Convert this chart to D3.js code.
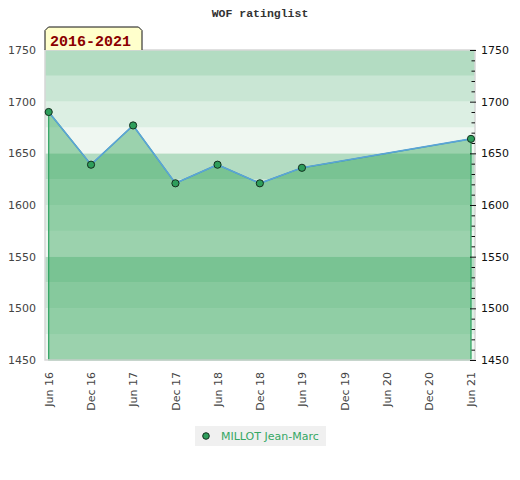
<!DOCTYPE html>
<html>
<head>
<meta charset="utf-8">
<script src="https://cdn.jsdelivr.net/npm/d3@7"></script>
<style>
  body { margin: 0; background: #fff; }
  svg { display: block; }
</style>
</head>
<body>
<script>
/***********************************************************************************/
// Data

var dates   = ['2016-06-01', '2016-12-01', '2017-06-01', '2017-12-01', '2018-06-01', '2018-12-01', '2019-06-01', '2021-06-01'];
var ratings = [1690, 1639, 1677, 1621, 1639, 1621, 1636, 1664];
var xTicks  = ['2016-06-01', '2016-12-01', '2017-06-01', '2017-12-01', '2018-06-01', '2018-12-01',
               '2019-06-01', '2019-12-01', '2020-06-01', '2020-12-01', '2021-06-01'];
var yTicks  = [1450, 1500, 1550, 1600, 1650, 1700, 1750];
var yMinor  = [1460, 1470, 1480, 1490, 1510, 1520, 1530, 1540, 1560, 1570, 1580, 1590,
               1610, 1620, 1630, 1640, 1660, 1670, 1680, 1690, 1710, 1720, 1730, 1740];
var bandEdges = [1450, 1475, 1500, 1525, 1550, 1575, 1600, 1625, 1650, 1675, 1700, 1725];
var playerName = 'MILLOT Jean-Marc';
var chartTitle = 'WOF ratinglist';
var periodLabel = '2016-2021';

/***********************************************************************************/
// Setup

var W = 520, H = 480;
var box = { left: 45, right: 475, top: 50, bottom: 360 };
var parse = d3.timeParse('%Y-%m-%d');
var fmt = d3.timeFormat('%b %y');

// bottom-to-top within each 100 block: lightest ... darkest
var bandColors = ['#eff7f1', '#dcefe3', '#c9e6d4', '#b3dcc2'];

var points = dates.map(function(d, i){ return { date: parse(d), value: ratings[i] }; });

var x = d3.scaleTime()
  .domain([parse(xTicks[0]), parse(xTicks[xTicks.length - 1])])
  .range([48.7, 471]);
var y = d3.scaleLinear().domain([1450, 1750]).range([box.bottom, box.top]);

var svg = d3.select('body').append('svg').attr('width', W).attr('height', H);

/***********************************************************************************/
// Bands

svg.append('g').selectAll('rect').data(bandEdges).enter().append('rect')
  .attr('x', box.left)
  .attr('width', box.right - box.left)
  .attr('y', function(d){ return y(d + 25); })
  .attr('height', function(d){ return y(d) - y(d + 25); })
  .attr('fill', function(d){ return bandColors[((d - 1450) / 25) % 4]; });

/***********************************************************************************/
// Area + line

var area = d3.area()
  .x(function(d){ return x(d.date); })
  .y0(y(1450))
  .y1(function(d){ return y(d.value); });

svg.append('path').datum(points)
  .attr('d', area)
  .attr('fill', 'rgb(47,163,87)')
  .attr('fill-opacity', 0.44)
  .attr('stroke', '#2ca25f')
  .attr('stroke-width', 1.2);

var line = d3.line()
  .x(function(d){ return x(d.date); })
  .y(function(d){ return y(d.value); });

svg.append('path').datum(points)
  .attr('d', line)
  .attr('fill', 'none')
  .attr('stroke', '#5ba3d9')
  .attr('stroke-width', 1.6);

/***********************************************************************************/
// Plot border

svg.append('rect')
  .attr('x', box.left).attr('y', box.top)
  .attr('width', box.right - box.left).attr('height', box.bottom - box.top)
  .attr('fill', 'none').attr('stroke', '#d6d6d6').attr('stroke-width', 1.5);

/***********************************************************************************/
// Axes

var axisFont = function(g){
  g.select('.domain').remove();
  g.selectAll('text').attr('font-family', 'DejaVu Sans').attr('font-size', 11).attr('fill', '#444');
};

svg.append('g')
  .attr('transform', 'translate(' + box.left + ',0)')
  .call(d3.axisLeft(y).tickValues(yTicks).tickSize(0).tickPadding(9).tickFormat(d3.format('d')))
  .call(axisFont);

svg.append('g')
  .attr('transform', 'translate(471.5,0)')
  .call(d3.axisRight(y).tickValues(yMinor).tickSize(3.5).tickFormat(''))
  .call(function(g){ g.select('.domain').remove(); g.selectAll('line').attr('stroke', '#111'); });

svg.append('g')
  .attr('transform', 'translate(470,0)')
  .call(d3.axisRight(y).tickValues(yTicks).tickSize(6).tickPadding(5).tickFormat(d3.format('d')))
  .call(axisFont)
  .call(function(g){ g.selectAll('line').attr('stroke', '#111'); g.selectAll('text').attr('fill', '#111'); });

svg.append('g')
  .attr('transform', 'translate(0,' + box.bottom + ')')
  .call(d3.axisBottom(x).tickValues(xTicks.map(parse)).tickSize(0).tickFormat(fmt))
  .call(axisFont)
  .call(function(g){
    g.selectAll('text')
      .attr('text-anchor', 'end')
      .attr('transform', 'rotate(-90)')
      .attr('x', -12)
      .attr('y', 0)
      .attr('dy', '0.35em');
  });

/***********************************************************************************/
// Points

svg.append('g').selectAll('circle').data(points).enter().append('circle')
  .attr('cx', function(d){ return x(d.date); })
  .attr('cy', function(d){ return y(d.value); })
  .attr('r', 3.6)
  .attr('fill', '#2e9e5b')
  .attr('stroke', '#13301f')
  .attr('stroke-width', 1);

/***********************************************************************************/
// Title + period tag

svg.append('text')
  .attr('x', 260).attr('y', 17)
  .attr('text-anchor', 'middle')
  .attr('font-family', 'Liberation Mono')
  .attr('font-weight', 'bold')
  .attr('font-size', 11.5)
  .attr('fill', '#333')
  .text(chartTitle);

var tag = svg.append('g');
tag.append('path')
  .attr('d', 'M45,50 L45,30.5 L48.5,27 L138.5,27 L142,30.5 L142,50')
  .attr('fill', '#ffffcc')
  .attr('stroke', '#111')
  .attr('stroke-width', 1);
tag.append('text')
  .attr('x', 50).attr('y', 45.5)
  .attr('font-family', 'Liberation Mono')
  .attr('font-weight', 'bold')
  .attr('font-size', 15)
  .attr('fill', '#8b0000')
  .text(periodLabel);

/***********************************************************************************/
// Legend

var legend = svg.append('g');
legend.append('rect')
  .attr('x', 195).attr('y', 426).attr('width', 131).attr('height', 20)
  .attr('fill', '#f0f0f0');
legend.append('circle')
  .attr('cx', 206).attr('cy', 436).attr('r', 3.3)
  .attr('fill', '#2e9e5b').attr('stroke', '#13301f').attr('stroke-width', 1);
legend.append('text')
  .attr('x', 221).attr('y', 440)
  .attr('font-family', 'DejaVu Sans')
  .attr('font-size', 11)
  .attr('fill', '#35a764')
  .text(playerName);
</script>
</body>
</html>
